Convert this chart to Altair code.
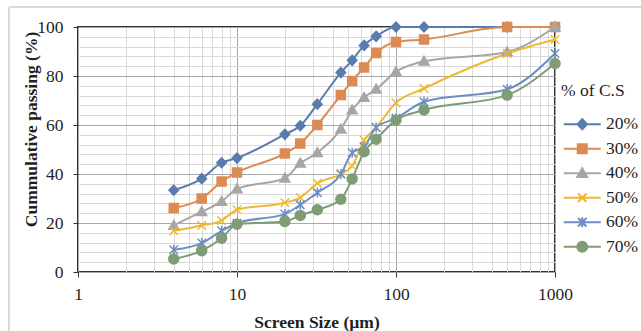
import altair as alt
import pandas as pd

# ---------------- data ----------------
screen_size = [4, 6, 8, 10, 20, 25, 32, 45, 53, 63, 75, 100, 150, 500, 1000]
series_names = ["20%", "30%", "40%", "50%", "60%", "70%"]
cs20 = [33.4, 38.1, 44.6, 46.5, 56.2, 59.7, 68.5, 81.4, 86.4, 92.5, 96.2, 100, 100, 100, 100]
cs30 = [26.1, 30.0, 36.9, 40.6, 48.4, 52.4, 60.0, 72.2, 78.0, 83.5, 89.4, 93.9, 94.9, 100, 100]
cs40 = [19.0, 24.6, 28.8, 33.9, 38.3, 44.4, 48.7, 58.3, 66.1, 71.2, 74.6, 81.7, 86.0, 89.8, 100]
cs50 = [16.8, 19.0, 21.0, 25.4, 28.3, 30.4, 36.2, 40.0, 43.3, 53.9, 59.0, 69.1, 74.9, 89.2, 94.9]
cs60 = [9.1, 11.8, 16.8, 19.9, 23.7, 27.4, 32.4, 40.0, 48.7, 51.1, 59.0, 62.7, 69.5, 74.6, 89.2]
cs70 = [5.3, 8.7, 13.8, 19.5, 20.6, 23.1, 25.4, 29.7, 38.0, 49.1, 54.2, 62.0, 66.1, 72.2, 85.1]

x_tick_values = [1, 2, 3, 4, 5, 6, 7, 8, 9, 10, 20, 30, 40, 50, 60, 70, 80, 90,
                 100, 200, 300, 400, 500, 600, 700, 800, 900, 1000]
y_tick_values = list(range(0, 101, 4))

colors = ["#5A7BAF", "#DC8B54", "#A6A6A6", "#EEB830", "#6C8EC4", "#7F9D74"]

# marker shapes (unit box paths)
plot_shapes = [
    "M0,-1L0.95,0L0,1L-0.95,0Z",
    "M-0.9,-0.9L0.9,-0.9L0.9,0.9L-0.9,0.9Z",
    "M0,-1L1,0.75L-1,0.75Z",
    "M-0.85,-0.85L0.85,0.85M-0.85,0.85L0.85,-0.85",
    "M-0.85,-0.85L0.85,0.85M-0.85,0.85L0.85,-0.85M0,-1L0,1",
    "M-1,0A1,1 0 1,0 1,0A1,1 0 1,0 -1,0Z",
]
LINE = "M-3.7,0L3.7,0"
legend_shapes = [LINE + s for s in plot_shapes]

FONT = "Liberation Serif"
TXT = "#1f1f1f"

rows = []
for name, vals in zip(series_names, [cs20, cs30, cs40, cs50, cs60, cs70]):
    for s, v in zip(screen_size, vals):
        rows.append({"size": s, "pass": v, "series": name})
df = pd.DataFrame(rows)

x_major = "indexof([1,10,100,1000], datum.value) >= 0"
y_major = "datum.value % 20 == 0"

x_enc = alt.X(
    "size:Q",
    scale=alt.Scale(type="log", domain=[1, 1000]),
    axis=alt.Axis(
        title="Screen Size (µm)",
        values=x_tick_values,
        labelExpr=f"{x_major} ? ('' + datum.value) : ''",
        labelOverlap=False,
        labelFlush=False,
        gridColor={"condition": {"test": x_major, "value": "#a8a8a8"}, "value": "#d9d9d9"},
        tickColor={"condition": {"test": x_major, "value": "#333333"}, "value": "transparent"},
        tickSize=5,
        labelPadding=8,
        titleY=55,
        titleBaseline="alphabetic",
    ),
)
y_enc = alt.Y(
    "pass:Q",
    scale=alt.Scale(domain=[0, 100]),
    axis=alt.Axis(
        title="Cummulative passing (%)",
        values=y_tick_values,
        labelExpr=f"{y_major} ? datum.label : ''",
        labelOverlap=False,
        labelFlush=False,
        gridColor={"condition": {"test": y_major, "value": "#a8a8a8"}, "value": "#d9d9d9"},
        tickColor={"condition": {"test": y_major, "value": "#333333"}, "value": "transparent"},
        tickSize=5,
        labelPadding=10,
        titleX=-42,
        titleY=102,
        titleBaseline="alphabetic",
    ),
)

col_scale = alt.Scale(domain=series_names, range=colors)
base = alt.Chart(df)

lines = base.mark_line(interpolate="monotone", strokeWidth=2).encode(
    x=x_enc, y=y_enc,
    color=alt.Color("series:N", scale=col_scale, legend=None),
)

points = base.mark_point(filled=True, strokeWidth=1.5, size=100, opacity=1).encode(
    x=x_enc, y=y_enc,
    color=alt.Color("series:N", scale=col_scale, legend=None),
    stroke=alt.Stroke("series:N", scale=col_scale, legend=None),
    shape=alt.Shape("series:N", scale=alt.Scale(domain=series_names, range=plot_shapes), legend=None),
)

leg = alt.Legend(
    title="% of C.S",
    orient="none",
    legendX=483,
    legendY=55,
    padding=0,
    titleFont=FONT, titleFontSize=17.5, titleFontWeight="normal", titleColor=TXT,
    titlePadding=16,
    labelFont=FONT, labelFontSize=17.5, labelColor=TXT,
    symbolSize=100, symbolStrokeWidth=2,
    symbolOffset=12.5, labelOffset=15,
    rowPadding=5.5,
)

legend_layer = base.transform_filter("false").mark_point(filled=True, strokeWidth=2, size=100, opacity=1).encode(
    color=alt.Color("series:N", scale=col_scale, legend=leg),
    stroke=alt.Stroke("series:N", scale=col_scale, legend=leg),
    shape=alt.Shape("series:N", scale=alt.Scale(domain=series_names, range=legend_shapes), legend=leg),
)

frame = base.mark_rect(fill=None, stroke="#d9d9d9", strokeWidth=1).encode(
    x=alt.value(-69), x2=alt.value(600), y=alt.value(-20), y2=alt.value(340)
)

chart = (
    alt.layer(frame, lines, points, legend_layer)
    .resolve_scale(shape="independent", color="independent", stroke="independent")
    .properties(
        width=477, height=245,
        autosize=alt.AutoSizeParams(type="none"),
        padding={"left": 78, "top": 27, "right": 86, "bottom": 59},
        background="white",
    )
    .configure_view(stroke="#333333", strokeWidth=2)
    .configure_axis(
        domain=False,
        labelFont=FONT, labelFontSize=17.5, labelColor=TXT,
        titleFont=FONT, titleFontSize=17.5, titleFontWeight="bold", titleColor=TXT,
        gridWidth=1,
    )
)

chart.save("out.html", embed_options={"renderer": "svg", "actions": False})
